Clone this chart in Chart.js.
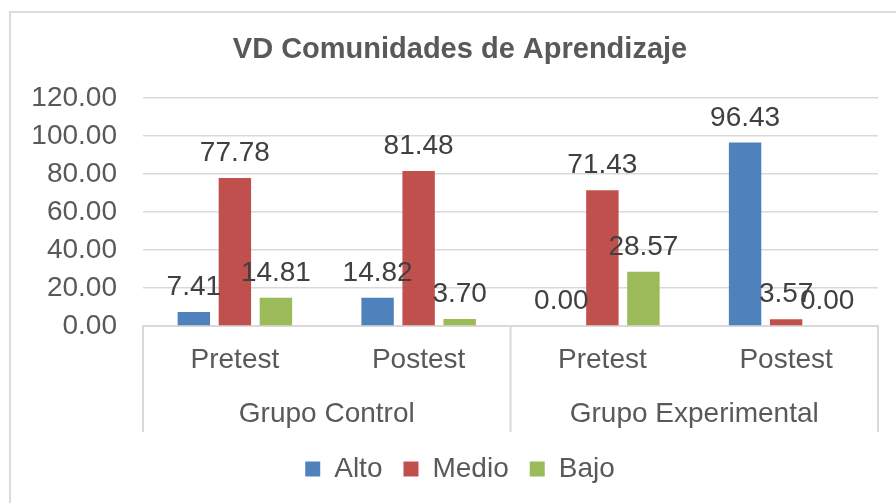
<!DOCTYPE html>
<html lang="es">
<head>
  <meta charset="UTF-8" />
  <title>VD Comunidades de Aprendizaje</title>
  <script src="https://cdn.jsdelivr.net/npm/chart.js"></script>
  <style>
    html, body {
      margin: 0;
      padding: 0;
      background: #ffffff;
      overflow: hidden;
      width: 896px;
      height: 503px;
    }
    .frame {
      position: absolute;
      left: 9px;
      top: 11px;
      width: 1000px;
      height: 600px;
      border-top: 2px solid #dcdcdc;
      border-left: 2px solid #dcdcdc;
    }
    #chart {
      position: absolute;
      left: 0;
      top: 0;
    }
  </style>
</head>
<body>
  <div class="frame">
    <canvas id="chart" width="898" height="480"></canvas>
  </div>

  <script>
    // data
    const categories = ['Pretest', 'Postest', 'Pretest', 'Postest'];
    const groups = ['Grupo Control', 'Grupo Experimental'];
    const alto = [7.41, 14.82, 0.00, 96.43];
    const medio = [77.78, 81.48, 71.43, 3.57];
    const bajo = [14.81, 3.70, 28.57, 0.00];
    const yTicks = [0, 20, 40, 60, 80, 100, 120];

    const FONT = "'Liberation Sans', Arial, sans-serif";
    const GREY = '#595959';
    const LINE = '#d9d9d9';

    // value labels above each bar
    const barLabels = {
      id: 'barLabels',
      afterDatasetsDraw(chart) {
        const ctx = chart.ctx;
        ctx.save();
        ctx.font = '28px ' + FONT;
        ctx.fillStyle = '#404040';
        ctx.textAlign = 'center';
        ctx.textBaseline = 'alphabetic';
        chart.data.datasets.forEach((ds, i) => {
          chart.getDatasetMeta(i).data.forEach((bar, j) => {
            ctx.fillText(ds.data[j].toFixed(2), bar.x, bar.y - 17);
          });
        });
        ctx.restore();
      }
    };

    // vertical separators between the two groups in the axis area
    const groupLines = {
      id: 'groupLines',
      afterDraw(chart) {
        const x = chart.scales.x, x2 = chart.scales.x2, ctx = chart.ctx;
        const perGroup = categories.length / groups.length;
        const step = x.getPixelForValue(1) - x.getPixelForValue(0);
        ctx.save();
        ctx.strokeStyle = LINE;
        ctx.lineWidth = 2;
        for (let g = 0; g <= groups.length; g++) {
          const px = x.getPixelForValue(g * perGroup) - step / 2;
          ctx.beginPath();
          ctx.moveTo(px, x.top);
          ctx.lineTo(px, x2.bottom - 2);
          ctx.stroke();
        }
        ctx.restore();
      }
    };

    new Chart(document.getElementById('chart'), {
      type: 'bar',
      data: {
        labels: categories,
        datasets: [
          { label: 'Alto', data: alto, backgroundColor: '#4f81bd', borderWidth: 0 },
          { label: 'Medio', data: medio, backgroundColor: '#c0504d', borderWidth: 0 },
          { label: 'Bajo', data: bajo, backgroundColor: '#9bbb59', borderWidth: 0 }
        ]
      },
      options: {
        responsive: false,
        animation: false,
        layout: { padding: 0 },
        datasets: {
          bar: { categoryPercentage: 0.67, barPercentage: 0.79 }
        },
        plugins: {
          title: {
            display: true,
            text: 'VD Comunidades de Aprendizaje',
            color: GREY,
            font: { family: FONT, size: 29, weight: 'bold' },
            padding: { top: 20, bottom: 30 }
          },
          legend: {
            position: 'bottom',
            labels: {
              color: GREY,
              font: { family: FONT, size: 28 },
              boxWidth: 15,
              boxHeight: 15,
              padding: 21
            }
          },
          tooltip: { enabled: false }
        },
        scales: {
          x: {
            type: 'category',
            position: 'bottom',
            grid: { display: false },
            border: { display: true, color: LINE, width: 2 },
            ticks: { color: GREY, font: { family: FONT, size: 28 }, padding: 9 },
            afterFit(s) { s.height = 52; }
          },
          x2: {
            type: 'category',
            position: 'bottom',
            labels: groups,
            offset: true,
            grid: { display: false },
            border: { display: false },
            ticks: { color: GREY, font: { family: FONT, size: 28 }, padding: 11 },
            afterFit(s) { s.height = 56; }
          },
          y: {
            min: yTicks[0],
            max: yTicks[yTicks.length - 1],
            afterBuildTicks(s) { s.ticks = yTicks.map(v => ({ value: v })); },
            grid: { color: LINE, lineWidth: 1.5, drawTicks: false },
            border: { display: false },
            ticks: {
              color: GREY,
              font: { family: FONT, size: 28 },
              padding: 26,
              callback: v => Number(v).toFixed(2)
            },
            afterFit(s) { s.width = 132; }
          },
          y2: {
            position: 'right',
            grid: { display: false },
            border: { display: false },
            ticks: { display: false },
            afterFit(s) { s.width = 31; }
          }
        }
      },
      plugins: [barLabels, groupLines]
    });
  </script>
</body>
</html>
